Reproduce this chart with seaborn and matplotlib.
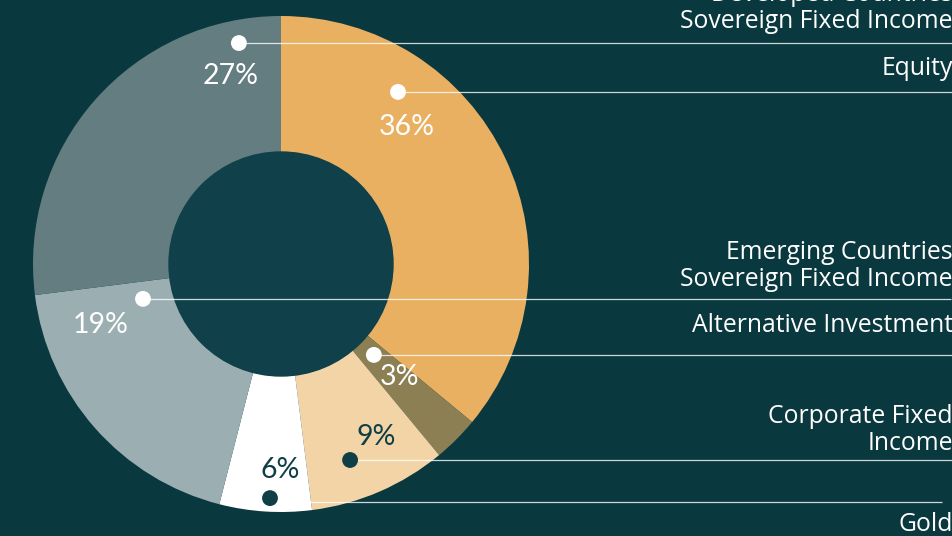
import numpy as np
import pandas as pd
import matplotlib
matplotlib.use('Agg')
import matplotlib.pyplot as plt
import seaborn as sns

# data (clockwise from 12 o'clock)
categories = ['Equity', 'Alternative Investment', 'Corporate Fixed\nIncome', 'Gold',
              'Emerging Countries\nSovereign Fixed Income', 'Developed Countries\nSovereign Fixed Income']
shares = [36, 3, 9, 6, 19, 27]
pct_labels = ['36%', '3%', '9%', '6%', '19%', '27%']

colors = ['#E9B062', '#8C7F54', '#F3D4A7', '#FFFFFF', '#9BAFB2', '#647D81']
pct_colors = ['white', 'white', '#0E3F46', '#0E3F46', 'white', 'white']
dot_colors = ['white', 'white', '#0E3F46', '#0E3F46', 'white', 'white']

# layout (pixels, y down)
bg = '#0A383F'
hole = '#10414A'
cx, cy, R, r_in = 281, 264, 248, 112
dot_angle_frac = [0.264, 0.444, 0.623, 0.458, 0.898, 0.889]
dot_rad_frac = [0.839, 0.524, 0.838, 0.945, 0.574, 0.907]
pct_offset = [(9, 35), (26, 22), (26, -23), (10, -28), (-42, 26), (-8, 33)]
line_start = [(0, 0), (0, 0), (0, 0), (40, 4), (0, 0), (0, 0)]
line_end = [953, 953, 953, 942, 951, 953]
label_base = [75, 332, 450, 531, 286, 28]   # baseline of last text line

sns.set_style('white')
plt.rcParams['font.family'] = ['Open Sans', 'DejaVu Sans']

fig = plt.figure(figsize=(9.53, 5.36), dpi=100)
fig.patch.set_facecolor(bg)
ax = fig.add_axes([0, 0, 1, 1])
ax.set_facecolor(bg)

wedges, _ = ax.pie(shares, colors=colors, startangle=-90, counterclock=True,
                   center=(cx, cy), radius=R, frame=True,
                   wedgeprops=dict(width=R - r_in, linewidth=0))
ax.add_patch(plt.Circle((cx, cy), r_in, color=hole, zorder=2))

# dot positions derived from wedge geometry
rows = []
for w, fa, fr in zip(wedges, dot_angle_frac, dot_rad_frac):
    th = np.deg2rad(w.theta1 + fa * (w.theta2 - w.theta1))
    rows.append((cx + fr * R * np.cos(th), cy + fr * R * np.sin(th)))
dots = pd.DataFrame(rows, columns=['x', 'y'])
dots['cat'] = categories

for i, row in dots.iterrows():
    sx, sy = line_start[i]
    ax.plot([row.x + sx, line_end[i]], [row.y + sy, row.y + sy], color='white',
            alpha=0.8, lw=0.9, zorder=3, solid_capstyle='butt')
    ox, oy = pct_offset[i]
    ax.text(row.x + ox, row.y + oy, pct_labels[i], color=pct_colors[i], fontsize=20.5,
            ha='center', va='center', family=['Lato', 'DejaVu Sans'], zorder=5)
    ax.text(953, label_base[i], categories[i], color='white', fontsize=17.8, ha='right',
            va='baseline', linespacing=1.1, zorder=5)

sns.scatterplot(data=dots, x='x', y='y', hue='cat', palette=dot_colors, s=130,
                linewidth=0, legend=False, ax=ax, zorder=4)
ax.set_xlim(0, 953)
ax.set_ylim(536, 0)
ax.set_aspect('equal')
ax.axis('off')

fig.savefig('out.png', dpi=100, facecolor=bg)
